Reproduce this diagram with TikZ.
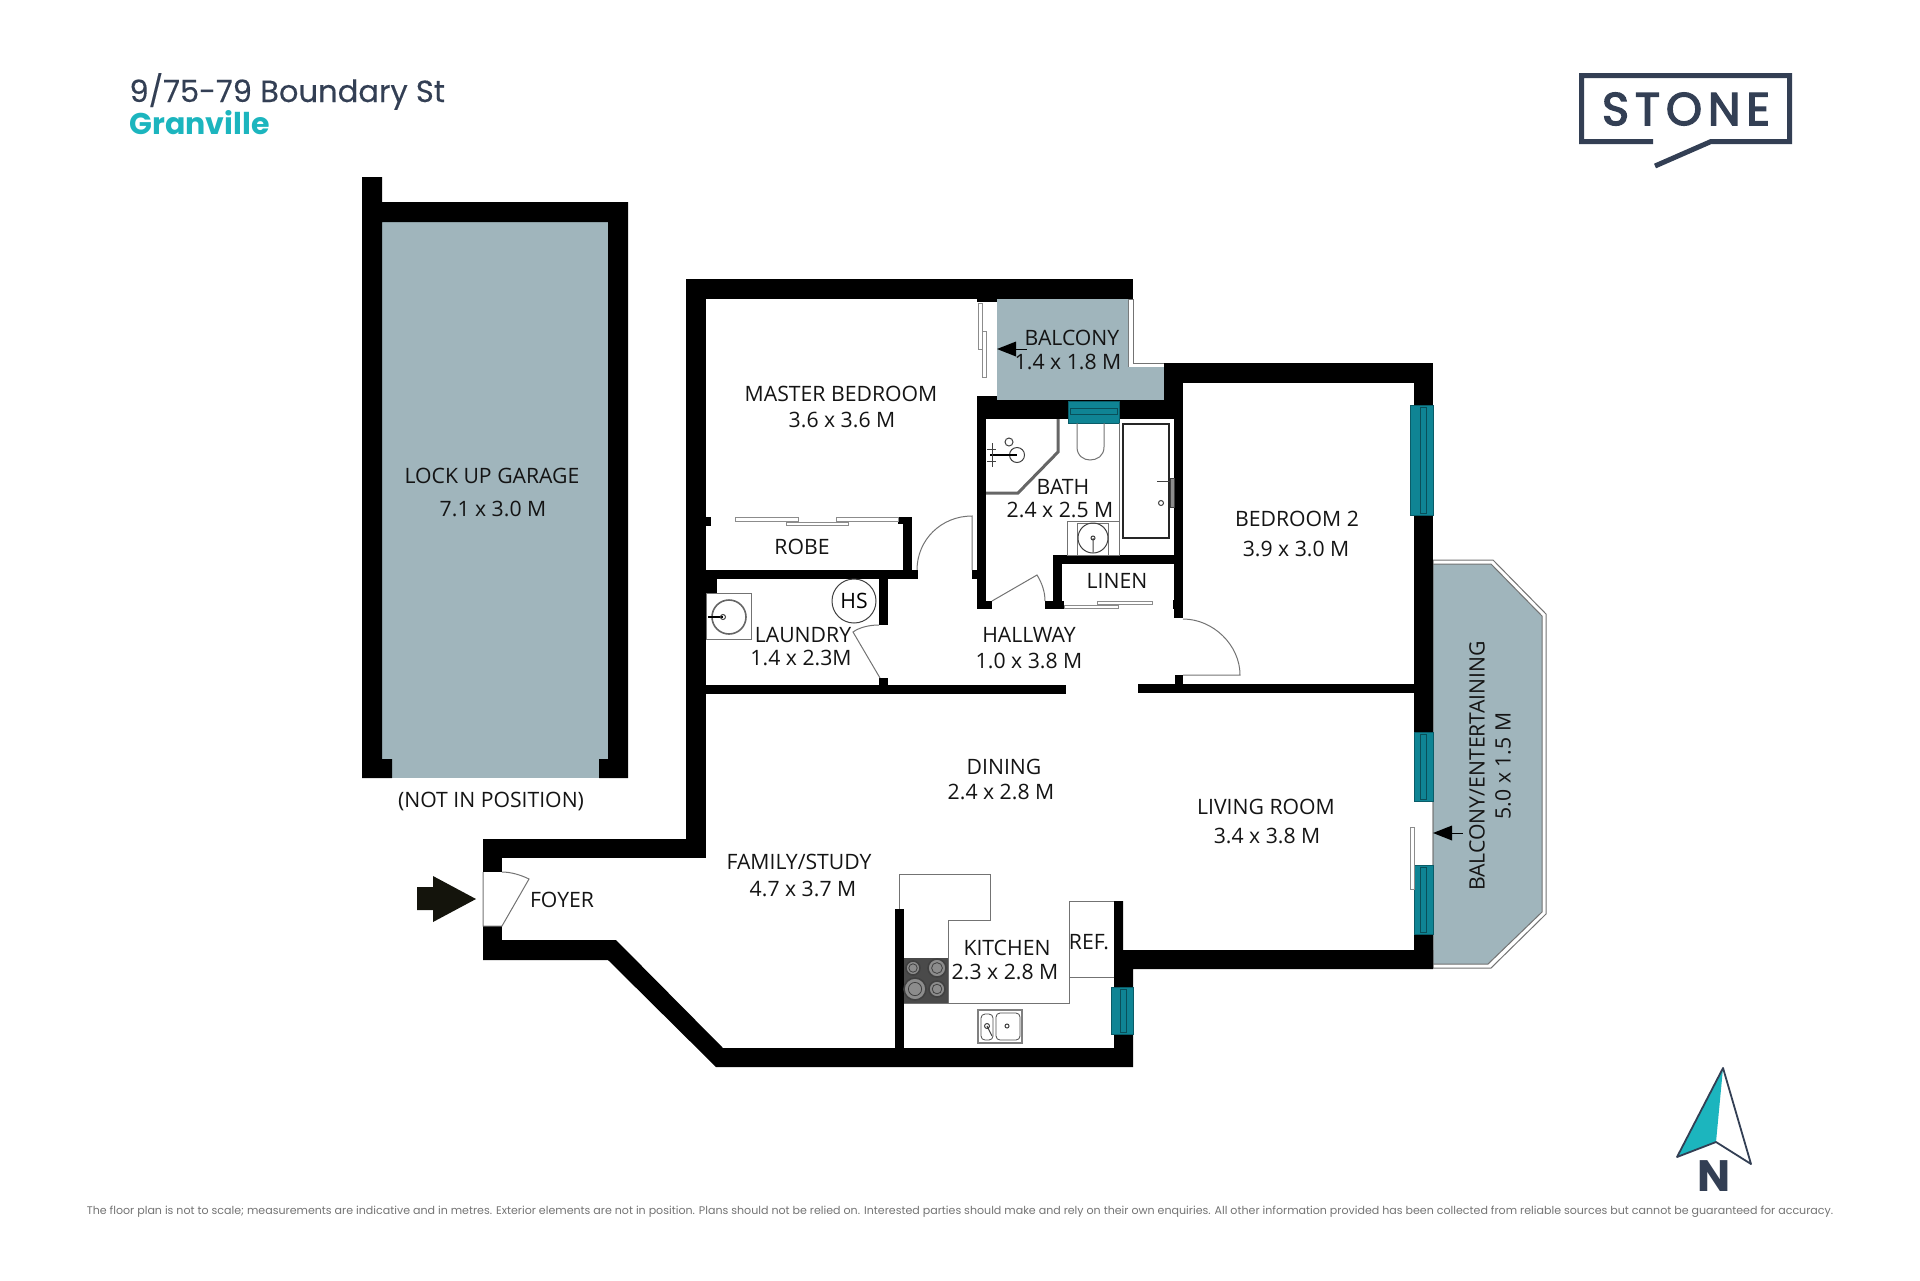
\documentclass[tikz,border=0pt]{standalone}
\usepackage{fontspec}
\setmainfont{Open Sans}
\newfontfamily\titlefont{Poppins}
\newfontfamily\streetfont[FakeBold=0.25]{Poppins}
\newfontfamily\logofont[LetterSpace=13,FakeBold=3]{Poppins}
\usetikzlibrary{shapes,arrows}
\definecolor{slab}{HTML}{A0B5BC}
\definecolor{glass}{HTML}{0F8494}
\definecolor{ink}{HTML}{333F54}
\definecolor{aqua}{HTML}{1CB5BE}
\definecolor{hob}{HTML}{4A4A4A}
\definecolor{entry}{HTML}{14140C}
\tikzset{
  wall/.style={fill=black},
  pane/.style={fill=glass,draw=glass!70!black,line width=0.25pt},
  fine/.style={draw=black!55,line width=0.5pt},
  panel/.style={draw=black!45,fill=white,line width=0.4pt},
  fitting/.style={draw=black!75,line width=0.5pt},
  room/.style={font=\fontsize{10.6}{12}\selectfont,text=black!92,inner sep=0pt},
}
\begin{document}
\begin{tikzpicture}[x=0.5pt,y=-0.5pt]
\useasboundingbox (0,0) rectangle (1920,1280);
% heading and logo
\node[anchor=base west,inner sep=0pt,text=ink,font=\streetfont\fontsize{15.3}{18}\selectfont] (street) at (129,102) {9/75-79 Boundary St};
\node[anchor=base west,inner sep=0pt,text=aqua,font=\titlefont\bfseries\fontsize{15}{18}\selectfont] (suburb) at (129,134) {Granville};
\draw[ink,line width=2.5pt] (1653,141.5) -- (1581.5,141.5) -- (1581.5,75.5) -- (1789.5,75.5) -- (1789.5,141.5) -- (1711,141.5) -- (1655,166);
\node[text=ink,inner sep=0pt,font=\logofont\fontsize{23}{25}\selectfont] (logo) at (1686,109) {STONE};
% slabs
\fill[slab] (382,222) rectangle (608,778);
\filldraw[fine,fill=white] (1128,299) -- (1133,299) -- (1133,363) -- (1164,363) -- (1164,367) -- (1128,367) -- cycle;
\fill[slab] (997,299) -- (1128,299) -- (1128,367) -- (1164,367) -- (1164,400) -- (997,400) -- cycle;
\filldraw[fine,fill=white] (1433,560) -- (1493,560) -- (1546,614) -- (1546,914) -- (1491,968) -- (1433,968) -- cycle;
\filldraw[fine,fill=slab] (1433,564) -- (1491,564) -- (1542,616) -- (1542,912) -- (1488,964) -- (1433,964) -- cycle;
% garage walls
\fill[wall] (362,177) -- (382,177) -- (382,202) -- (628,202) -- (628,778) -- (599,778) -- (599,759) -- (608,759) -- (608,222) -- (382,222) -- (382,759) -- (392,759) -- (392,778) -- (362,778) -- cycle;
% unit walls
\fill[wall] (483,940) -- (616,940) -- (723,1048) -- (1114,1048) -- (1114,901) -- (1123,901) -- (1123,950) -- (1433,950) -- (1433,969) -- (1133,969) -- (1133,1067) -- (716,1067) -- (608,960) -- (483,960) -- cycle;
\foreach \xa/\ya/\xb/\yb in {686/279/1133/299, 686/279/706/858, 483/839/706/858, 483/839/502/872, 483/926/502/960,
  1164/363/1433/383, 1414/363/1433/801, 1414/865/1433/969, 1164/363/1183/400, 1174/400/1183/618, 977/400/1183/419, 977/396/997/400, 977/396/986/609,
  977/601/992/609, 706/685/1066/694, 1138/684/1414/693, 1175/675/1183/684, 879/678/888/685, 879/579/888/625, 706/579/717/594,
  706/570/918/579, 903/517/912/570, 898/517/903/524, 706/517/711/526, 972/570/977/579, 1053/555/1175/564, 1053/555/1062/609,
  1045/601/1064/609, 1173/600/1175/609, 895/909/904/1048, 977/299/997/302} {
    \fill[wall] (\xa,\ya) rectangle (\xb,\yb);
}
% windows
\foreach \ya/\yb/\xa/\xb in {405/515/1410/1433, 732/801/1414/1433, 865/934/1414/1433, 987/1034/1111/1133} {
    \filldraw[pane] (\xa,\ya) rectangle (\xb,\yb);
    \draw[glass!60!black,line width=0.3pt] (\xb-13,\ya+2) rectangle (\xb-7,\yb-2);
}
\filldraw[pane] (1068,401) rectangle (1119,423);
\draw[glass!60!black,line width=0.3pt] (1070,408) rectangle (1117,414);
% doors
\draw[panel] (978,303) rectangle (982,349);
\draw[panel] (982,331) rectangle (986,377);
\draw[panel] (1410,827) rectangle (1414,889);
\foreach \xa/\ya/\xb/\yb in {735/517/798/521, 786/522/848/525, 836/517/898/521, 1097/601/1152/604, 1064/605/1118/608} {
    \draw[panel] (\xa,\ya) rectangle (\xb,\yb);
}
\draw[fine] (972,570) -- (972,516) .. controls (941,516) and (917,540) .. (917,570);
\draw[fine] (992,601) -- (1037,575) .. controls (1042,583) and (1045,592) .. (1045,601);
\draw[fine] (880,678) -- (853,632) .. controls (860,627) and (870,625) .. (879,625);
\draw[fine] (1183,675) -- (1240,675) .. controls (1240,645) and (1213,619) .. (1183,619);
\draw[fine] (483,872) -- (483,926) -- (502,926) -- (529,879) .. controls (521,875) and (511,872) .. (502,872);
% entry arrows
\fill[entry] (417,887) -- (433,887) -- (433,876) -- (476,899) -- (433,922) -- (433,910) -- (417,910) -- cycle;
\fill (997,349) -- (1016,341.5) -- (1016,356.5) -- cycle;
\draw[line width=0.4pt] (1016,349) -- (1027,349);
\fill (1433,833) -- (1452,825.5) -- (1452,840.5) -- cycle;
\draw[line width=0.4pt] (1452,833) -- (1463,833);
% shower and bath fittings
\draw[black!60,line width=1.5pt] (1058,419) -- (1058,452) -- (1018,493) -- (986,493);
\draw[fitting] (1017,455) circle (7.5);
\draw[fitting] (1009,442) circle (4);
\draw[black,line width=0.8pt] (990,455) -- (1017,455);
\draw[fitting] (992,443) -- (992,467);
\draw[fitting] (987,449) -- (996,449);
\draw[fitting] (987,461) -- (996,461);
\draw[fine] (1077,423) -- (1077,447) .. controls (1077,456) and (1084,460) .. (1090,460) .. controls (1097,460) and (1104,456) .. (1104,447) -- (1104,423);
\draw[fine] (1119,423) -- (1119,555);
\draw[black!85,line width=0.7pt] (1123,424) rectangle (1169,538);
\draw[fitting] (1157,481) -- (1173,481);
\filldraw[fitting,fill=black!45] (1170,478) rectangle (1174,507);
\draw[fitting] (1161,503) circle (2.5);
\draw[fine] (1067,521) rectangle (1119,555);
\draw[fine] (1077,523) rectangle (1108,555);
\draw[fitting] (1093,538) circle (15);
\draw[fitting] (1093,538) circle (2) -- (1093,552);
% laundry tub
\draw[fine] (706,593) rectangle (751,639);
\draw[black!60,line width=0.8pt] (729,617) circle (17);
\draw[black,line width=0.8pt] (708,617) -- (723,617);
\draw[fitting] (723,617) circle (2.5);
\node[circle,draw=black!75,line width=0.5pt,minimum size=44*0.5pt,inner sep=0pt,font=\fontsize{10.6}{12}\selectfont] (hs) at (854,601) {HS};
% kitchen
\draw[fine] (899,909) -- (899,874) -- (990,874) -- (990,920) -- (948,920) -- (948,1003) -- (1069,1003) -- (1069,901) -- (1114,901);
\draw[fine] (904,1003) -- (948,1003);
\draw[fine] (1069,977) -- (1114,977);
\fill[hob] (904,958) rectangle (948,1003);
\foreach \x/\y/\r in {913/968/7, 937/968/9, 915/989/11, 937/989/8} {
    \filldraw[draw=black!75,fill=black!45,line width=0.8pt] (\x,\y) circle (\r);
    \draw[black!75,line width=0.4pt] (\x,\y) circle (\r*0.6);
}
\draw[black!50,line width=0.8pt] (978,1010) rectangle (1022,1043);
\draw[black!70,line width=0.4pt,rounded corners=2pt] (981,1014) rectangle (993,1040);
\draw[black!70,line width=0.4pt,rounded corners=2pt] (996,1013) rectangle (1020,1040);
\draw[fitting] (987,1026) circle (2.5) -- (992,1036);
\draw[fitting] (1007,1026) circle (2);
% room names
\node[room] (garage) at (492,476) {LOCK UP GARAGE};
\node[room] (garagesize) at (493,509) {7.1 x 3.0 M};
\node[room] (garagenote) at (491,801) {(NOT IN POSITION)};
\node[room] (master) at (841,394) {MASTER BEDROOM};
\node[room] (mastersize) at (842,420) {3.6 x 3.6 M};
\node[room] (balcony) at (1072,338) {BALCONY};
\node[room] (balconysize) at (1068,362) {1.4 x 1.8 M};
\node[room] (robe) at (802,547) {ROBE};
\node[room] (bath) at (1063,487) {BATH};
\node[room] (bathsize) at (1060,510) {2.4 x 2.5 M};
\node[room] (linen) at (1117,581) {LINEN};
\node[room] (laundry) at (803,635) {LAUNDRY};
\node[room] (laundrysize) at (801,658) {1.4 x 2.3M};
\node[room] (hallway) at (1029,635) {HALLWAY};
\node[room] (hallwaysize) at (1029,661) {1.0 x 3.8 M};
\node[room] (bedroom) at (1297,519) {BEDROOM 2};
\node[room] (bedroomsize) at (1296,549) {3.9 x 3.0 M};
\node[room] (dining) at (1004,767) {DINING};
\node[room] (diningsize) at (1001,792) {2.4 x 2.8 M};
\node[room] (living) at (1266,807) {LIVING ROOM};
\node[room] (livingsize) at (1267,836) {3.4 x 3.8 M};
\node[room] (family) at (799,862) {FAMILY/STUDY};
\node[room] (familysize) at (803,889) {4.7 x 3.7 M};
\node[room] (foyer) at (562,900) {FOYER};
\node[room] (kitchen) at (1007,948) {KITCHEN};
\node[room] (kitchensize) at (1005,972) {2.3 x 2.8 M};
\node[room] (fridge) at (1089,942) {REF.};
\node[room,rotate=90] (deck) at (1477,766) {BALCONY/ENTERTAINING};
\node[room,rotate=90] (decksize) at (1503,766) {5.0 x 1.5 M};
% north point
\fill[aqua] (1723,1068) -- (1677,1157) -- (1716,1142) -- cycle;
\draw[ink,line width=0.9pt,line join=round] (1723,1068) -- (1677,1157) -- (1716,1142) -- (1751,1164) -- cycle;
\node[text=ink,inner sep=0pt,font=\titlefont\bfseries\fontsize{22}{24}\selectfont] (north) at (1714,1176) {N};
% small print
\node[text=black!55,inner sep=0pt,font=\titlefont\fontsize{5.53}{7}\selectfont] (note) at (960,1212) {The floor plan is not to scale; measurements are indicative and in metres. Exterior elements are not in position. Plans should not be relied on. Interested parties should make and rely on their own enquiries. All other information provided has been collected from reliable sources but cannot be guaranteed for accuracy.};
\end{tikzpicture}
\end{document}
